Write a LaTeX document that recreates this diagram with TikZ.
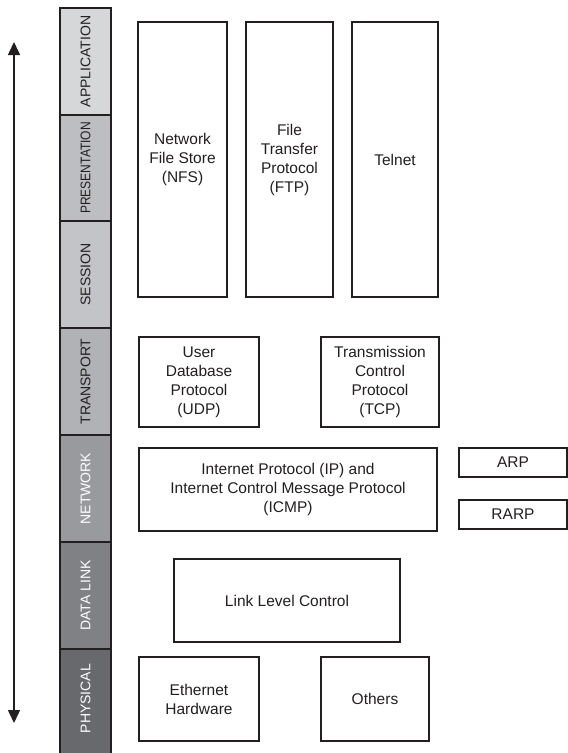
\documentclass[tikz,border=0pt]{standalone}
\usepackage{fontspec}
\setmainfont{Liberation Sans}
\usetikzlibrary{arrows.meta}
\definecolor{ink}{HTML}{231F20}
\definecolor{lyA}{HTML}{D6D7D9}
\definecolor{lyB}{HTML}{BDBEC1}
\definecolor{lyC}{HTML}{C3C4C7}
\definecolor{lyD}{HTML}{B1B2B5}
\definecolor{lyE}{HTML}{999A9D}
\definecolor{lyF}{HTML}{808184}
\definecolor{lyG}{HTML}{68696C}
\tikzset{
  proto/.style={draw=ink, line width=1.6pt, fill=white, text=ink, align=center,
    inner sep=0pt, font=\fontsize{15.5}{19}\selectfont},
  layer/.style={draw=ink, line width=1.8pt, minimum width=51pt, inner sep=0pt,
    font=\fontsize{14}{16}\selectfont},
  darklabel/.style={text=ink},
  lightlabel/.style={text=white},
  updown/.style={line width=1.5pt, draw=ink,
    {Triangle[width=12pt,length=13pt]}-{Triangle[width=12pt,length=13pt]}}
}
\begin{document}
\begin{tikzpicture}[x=1pt,y=-1pt]
\useasboundingbox (0,0) rectangle (568,753);

% OSI layer column
\node[layer, fill=lyA, darklabel, minimum height=107pt] (app) at (85.5,61.5) {\rotatebox{90}{APPLICATION}};
\node[layer, fill=lyB, darklabel, minimum height=106pt] (pres) at (85.5,168) {\rotatebox{90}{\scalebox{0.86}[1]{PRESENTATION}}};
\node[layer, fill=lyC, darklabel, minimum height=107pt] (sess) at (85.5,274.5) {\rotatebox{90}{SESSION}};
\node[layer, fill=lyD, darklabel, minimum height=107pt] (trans) at (85.5,381.5) {\rotatebox{90}{TRANSPORT}};
\node[layer, fill=lyE, lightlabel, minimum height=107pt] (net) at (85.5,488.5) {\rotatebox{90}{NETWORK}};
\node[layer, fill=lyF, lightlabel, minimum height=107pt] (dl) at (85.5,595.5) {\rotatebox{90}{DATA LINK}};
\node[layer, fill=lyG, lightlabel, minimum height=110pt] (phys) at (85.5,704) {};
\node[lightlabel, font=\fontsize{14}{16}\selectfont, inner sep=0pt] (physlbl) at (85.5,698.5) {\rotatebox{90}{PHYSICAL}};

% up/down direction arrow
\coordinate (atop) at (14,42);
\coordinate (abot) at (14,723);
\draw[updown] (atop) -- (abot);

% application-level protocols
\node[proto, minimum width=89pt, minimum height=275pt] (nfs) at (182.5,159.5) {Network\\File Store\\(NFS)};
\node[proto, minimum width=87pt, minimum height=275pt] (ftp) at (289.5,159.5) {File\\Transfer\\Protocol\\(FTP)};
\node[proto, minimum width=86pt, minimum height=275pt] (telnet) at (395,159.5) {Telnet};

% transport protocols
\node[proto, minimum width=120pt, minimum height=90pt] (udp) at (199,382) {User\\Database\\Protocol\\(UDP)};
\node[proto, minimum width=118pt, minimum height=90pt] (tcp) at (380,382) {Transmission\\Control\\Protocol\\(TCP)};

% network protocols
\node[proto, minimum width=298pt, minimum height=83pt] (ip) at (288,489.5) {Internet Protocol (IP) and\\Internet Control Message Protocol\\(ICMP)};
\node[proto, minimum width=108pt, minimum height=29pt] (arp) at (513,462.5) {ARP};
\node[proto, minimum width=108pt, minimum height=29pt] (rarp) at (513,514.5) {RARP};

% data link and physical
\node[proto, minimum width=226pt, minimum height=83pt] (llc) at (287,600.5) {Link Level Control};
\node[proto, minimum width=120pt, minimum height=84pt] (eth) at (199,699) {Ethernet\\Hardware};
\node[proto, minimum width=108pt, minimum height=84pt] (others) at (375,699) {Others};
\end{tikzpicture}
\end{document}
